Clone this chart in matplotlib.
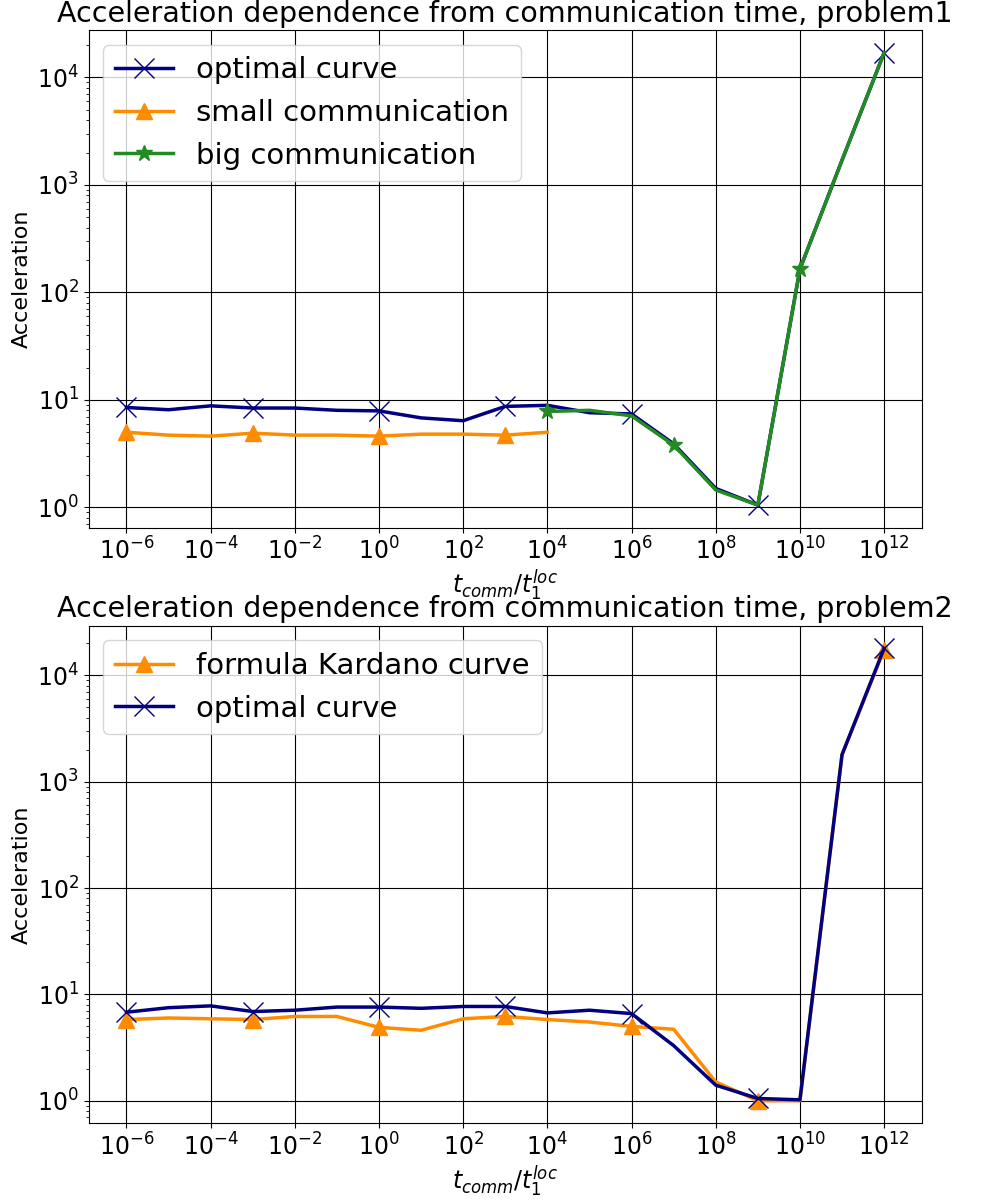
import numpy as np
import matplotlib.pyplot as plt

x_all = [10.0 ** p for p in range(-6, 13)]

# problem 1
optimal1 = [8.5, 8.1, 8.8, 8.4, 8.4, 8.0, 7.9, 6.8, 6.4, 8.7, 8.9, 7.6, 7.4, 3.9, 1.5, 1.05, 165, 1700, 17000]
x_small = [10.0 ** p for p in range(-6, 5)]
small1 = [5.0, 4.7, 4.6, 4.9, 4.7, 4.7, 4.6, 4.8, 4.8, 4.7, 5.0]
x_big = [10.0 ** p for p in range(4, 13)]
big1 = [7.8, 8.0, 7.1, 3.8, 1.45, 1.05, 165, 1700, 17000]

# problem 2
kardano2 = [5.8, 6.0, 5.9, 5.8, 6.2, 6.2, 4.9, 4.6, 5.9, 6.2, 5.8, 5.5, 5.0, 4.7, 1.5, 1.0, 1.0, 1800, 17500]
optimal2 = [6.8, 7.5, 7.8, 6.9, 7.1, 7.6, 7.6, 7.4, 7.7, 7.7, 6.7, 7.1, 6.6, 3.3, 1.4, 1.05, 1.02, 1800, 18000]

xticks = [10.0 ** p for p in range(-6, 13, 2)]

fig, (ax1, ax2) = plt.subplots(2, 1, figsize=(9.84, 12.04), dpi=100)

ax1.plot(x_all, optimal1, color='navy', marker='x', markersize=14, markevery=3, lw=2.5, label='optimal curve')
ax1.plot(x_small, small1, color='darkorange', marker='^', markersize=12, markevery=3, lw=2.5, label='small communication')
ax1.plot(x_big, big1, color='forestgreen', marker='*', markersize=12, markevery=3, lw=2.5, label='big communication')
ax1.set_title('Acceleration dependence from communication time, problem1', fontsize=20.5)

ax2.plot(x_all, kardano2, color='darkorange', marker='^', markersize=12, markevery=3, lw=2.5, label='formula Kardano curve')
ax2.plot(x_all, optimal2, color='navy', marker='x', markersize=14, markevery=3, lw=2.5, label='optimal curve')
ax2.set_title('Acceleration dependence from communication time, problem2', fontsize=20.5)

for ax in (ax1, ax2):
    ax.set_xscale('log')
    ax.set_yscale('log')
    ax.set_xticks(xticks)
    ax.grid(True, color='black', lw=0.8)
    ax.tick_params(labelsize=17)
    ax.set_xlabel(r'$t_{comm}/t_1^{loc}$', fontsize=17, labelpad=2)
    ax.set_ylabel('Acceleration', fontsize=16)
    ax.legend(loc='upper left', fontsize=21)

plt.subplots_adjust(left=0.09, right=0.937, top=0.975, bottom=0.067, hspace=0.197)
plt.savefig('out.png')
